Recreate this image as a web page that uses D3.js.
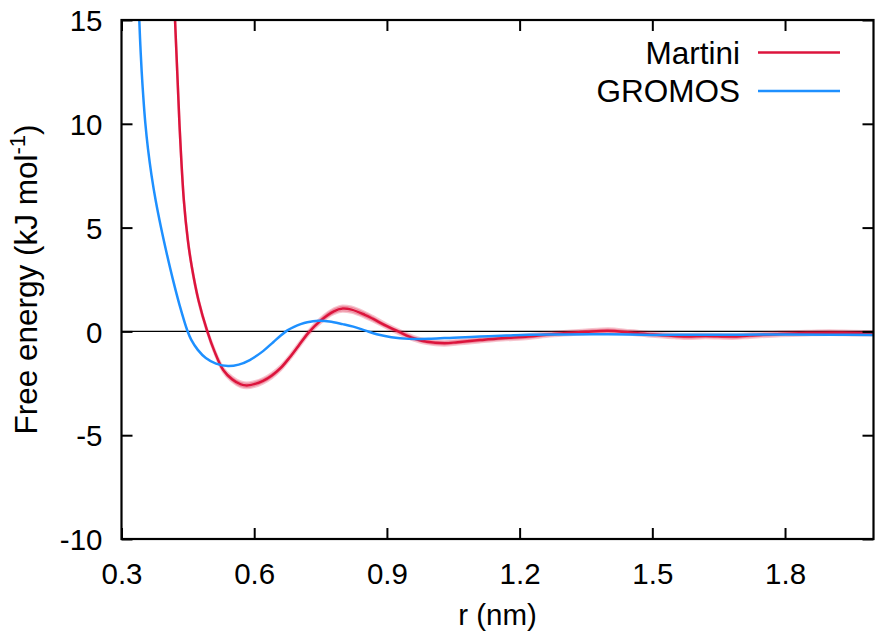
<!DOCTYPE html>
<html>
<head>
<meta charset="utf-8">
<script src="https://cdn.jsdelivr.net/npm/d3@7"></script>
<style>
  html, body { margin: 0; padding: 0; background: #fff; }
  svg { display: block; }
  text { font-family: "Liberation Sans", Arial, Helvetica, sans-serif; fill: #000; }
</style>
</head>
<body>
<svg id="chart" width="876" height="633"></svg>
<script>
// Potential of mean force between two beads, r in nm, free energy in kJ/mol
const martiniR = [0.41, 0.421, 0.431, 0.441, 0.45, 0.459, 0.474, 0.494, 0.51, 0.53, 0.55, 0.57, 0.583,
  0.60, 0.62, 0.64, 0.66, 0.68, 0.70, 0.722, 0.75, 0.78, 0.80, 0.82, 0.85, 0.869, 0.90, 0.93, 0.96,
  0.99, 1.03, 1.06, 1.11, 1.16, 1.22, 1.26, 1.30, 1.35, 1.40, 1.45, 1.50, 1.55, 1.58, 1.62, 1.68,
  1.72, 1.79, 1.85, 1.90, 1.95, 2.00];
const martiniG = [21, 15, 10, 6.3, 4.4, 3.1, 1.5, 0, -0.95, -1.86, -2.3, -2.55, -2.6,
  -2.54, -2.38, -2.12, -1.76, -1.26, -0.7, -0.08, 0.52, 0.97, 1.1, 1.05, 0.8, 0.6, 0.25, -0.05, -0.33,
  -0.5, -0.57, -0.52, -0.42, -0.33, -0.25, -0.16, -0.09, -0.02, 0.03, -0.05, -0.15, -0.22, -0.25, -0.22, -0.25,
  -0.2, -0.12, -0.08, -0.06, -0.08, -0.09];
// statistical uncertainty of the Martini profile (kJ/mol)
const martiniErr = [0, 0, 0, 0.02, 0.03, 0.04, 0.05, 0.06, 0.08, 0.1, 0.12, 0.13, 0.13,
  0.13, 0.12, 0.12, 0.11, 0.1, 0.1, 0.1, 0.12, 0.13, 0.14, 0.14, 0.13, 0.12, 0.1, 0.1, 0.1,
  0.1, 0.11, 0.1, 0.1, 0.1, 0.1, 0.1, 0.1, 0.1, 0.11, 0.1, 0.1, 0.1, 0.11, 0.1, 0.1,
  0.1, 0.1, 0.1, 0.1, 0.1, 0.1];

const gromosR = [0.337, 0.3402, 0.3427, 0.3457, 0.3493, 0.3538, 0.3599, 0.3678, 0.3775, 0.3891,
  0.402, 0.416, 0.4313, 0.4492, 0.4578, 0.4725, 0.4906, 0.5136, 0.5408, 0.565, 0.59, 0.62, 0.643,
  0.66, 0.675, 0.69, 0.705, 0.72, 0.745, 0.77, 0.80, 0.824, 0.85, 0.877, 0.91, 0.95, 1.00, 1.05,
  1.11, 1.17, 1.22, 1.30, 1.40, 1.50, 1.60, 1.70, 1.80, 1.90, 2.00];
const gromosG = [17.5, 15.0, 13.74, 12.49, 11.29, 10.04, 8.79, 7.53, 6.28, 5.03,
  3.78, 2.52, 1.27, 0.02, -0.41, -0.89, -1.28, -1.55, -1.67, -1.6, -1.38, -0.95, -0.52,
  -0.2, 0.05, 0.22, 0.35, 0.44, 0.51, 0.48, 0.35, 0.23, 0.05, -0.14, -0.28, -0.36, -0.35, -0.3,
  -0.25, -0.2, -0.16, -0.15, -0.14, -0.17, -0.16, -0.16, -0.15, -0.16, -0.17];

const xTicks = [0.3, 0.6, 0.9, 1.2, 1.5, 1.8];
const yTicks = [-10, -5, 0, 5, 10, 15];
const seriesNames = ["Martini", "GROMOS"];
const seriesColors = ["#dc143c", "#1e90ff"];

const svg = d3.select("#chart");
const m = { left: 121.5, right: 873.5, top: 20, bottom: 539 };

const x = d3.scaleLinear().domain([0.3, 2.0]).range([m.left, m.right]);
const y = d3.scaleLinear().domain([-10, 15]).range([m.bottom, m.top]);

const W = m.right - m.left, H = m.bottom - m.top;
const FS = 29.5;     // tick labels and x title
const FS_BIG = 31.5; // y title and legend

svg.append("defs").append("clipPath").attr("id", "plotClip")
  .append("rect").attr("x", m.left).attr("y", m.top).attr("width", W).attr("height", H);

const plot = svg.append("g").attr("clip-path", "url(#plotClip)");

// zero reference line
plot.append("line")
  .attr("x1", m.left).attr("x2", m.right)
  .attr("y1", y(0)).attr("y2", y(0))
  .attr("stroke", "#000").attr("stroke-width", 1.2);

const martini = martiniR.map((r, i) => ({ r, g: martiniG[i], e: martiniErr[i] }));
const gromos = gromosR.map((r, i) => ({ r, g: gromosG[i] }));

const curve = d3.curveCatmullRom.alpha(0.5);

// uncertainty band around the Martini profile
plot.append("path")
  .datum(martini)
  .attr("d", d3.area().curve(d3.curveMonotoneX)
    .x(d => x(d.r)).y0(d => y(d.g - d.e)).y1(d => y(d.g + d.e)))
  .attr("fill", "#dc143c").attr("fill-opacity", 0.3)
  .attr("stroke", "#dc143c").attr("stroke-opacity", 0.25).attr("stroke-width", 2.5);

const line = d3.line().curve(curve).x(d => x(d.r)).y(d => y(d.g));

plot.append("path").datum(martini).attr("d", line)
  .attr("fill", "none").attr("stroke", seriesColors[0]).attr("stroke-width", 2.5)
  .attr("stroke-linejoin", "round");

plot.append("path").datum(gromos).attr("d", line)
  .attr("fill", "none").attr("stroke", seriesColors[1]).attr("stroke-width", 2.5)
  .attr("stroke-linejoin", "round");

// axes with ticks pointing inward, mirrored on the opposite sides
const tickLen = 11;
const axB = svg.append("g").attr("transform", `translate(0,${m.bottom})`)
  .call(d3.axisBottom(x).tickValues(xTicks).tickSizeInner(-tickLen).tickSizeOuter(0)
    .tickFormat(d3.format(".1f")));
const axT = svg.append("g").attr("transform", `translate(0,${m.top})`)
  .call(d3.axisTop(x).tickValues(xTicks).tickSizeInner(-tickLen).tickSizeOuter(0).tickFormat(""));
const axL = svg.append("g").attr("transform", `translate(${m.left},0)`)
  .call(d3.axisLeft(y).tickValues(yTicks).tickSizeInner(-tickLen).tickSizeOuter(0)
    .tickPadding(19).tickFormat(d => String(d)));
const axR = svg.append("g").attr("transform", `translate(${m.right},0)`)
  .call(d3.axisRight(y).tickValues(yTicks).tickSizeInner(-tickLen).tickSizeOuter(0).tickFormat(""));

[axB, axT, axL, axR].forEach(a => {
  a.select(".domain").remove();
  a.selectAll(".tick line").attr("stroke", "#000").attr("stroke-width", 2);
  a.selectAll(".tick text").attr("font-size", FS).attr("font-family", null);
});
axB.selectAll(".tick text").attr("y", 24).attr("dy", "0.71em");
axL.selectAll(".tick text").attr("dy", "0.36em");

// frame
svg.append("rect")
  .attr("x", m.left).attr("y", m.top).attr("width", W).attr("height", H)
  .attr("fill", "none").attr("stroke", "#000").attr("stroke-width", 2.2);

// axis titles
svg.append("text")
  .attr("x", (m.left + m.right) / 2).attr("y", 625)
  .attr("text-anchor", "middle").attr("font-size", FS)
  .text("r (nm)");

const yt = svg.append("text")
  .attr("transform", `translate(37,${(m.top + m.bottom) / 2}) rotate(-90)`)
  .attr("text-anchor", "middle").attr("font-size", FS_BIG);
yt.append("tspan").text("Free energy (kJ mol");
yt.append("tspan").attr("font-size", FS_BIG * 0.7).attr("dy", -12).text("-1");
yt.append("tspan").attr("dy", 12).text(")");

// legend
const legend = svg.append("g");
seriesNames.forEach((name, i) => {
  const yy = 52.5 + i * 38.5;
  legend.append("text")
    .attr("x", 740).attr("y", yy).attr("dy", "0.36em")
    .attr("text-anchor", "end").attr("font-size", FS_BIG)
    .text(name);
  legend.append("line")
    .attr("x1", 758).attr("x2", 840).attr("y1", yy).attr("y2", yy)
    .attr("stroke", seriesColors[i]).attr("stroke-width", 2.7);
});
</script>
</body>
</html>
